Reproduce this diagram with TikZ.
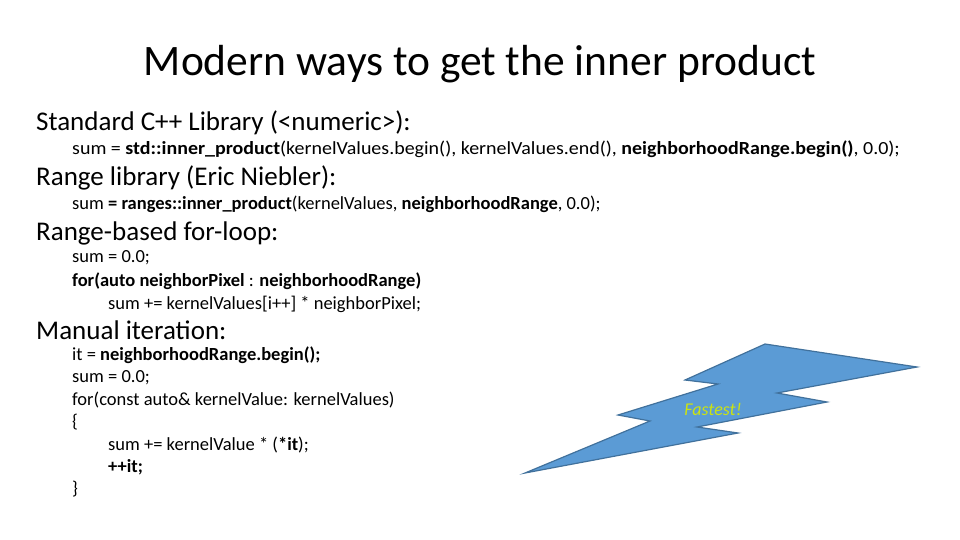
\documentclass[tikz,border=0pt]{standalone}
\usepackage{fontspec}
\setmainfont{Carlito}
\definecolor{boltfill}{RGB}{91,155,213}
\definecolor{boltline}{RGB}{65,113,156}

\tikzset{
  head/.style={anchor=west, inner sep=0pt, font=\fontsize{27}{31}\selectfont},
  code/.style={anchor=west, inner sep=0pt, font=\fontsize{18.5}{22}\selectfont},
  bolt/.style={fill=boltfill, draw=boltline, line width=1.2pt}
}

\begin{document}
\begin{tikzpicture}[x=1pt, y=-1pt]
  \useasboundingbox (0, 0) rectangle (960, 540);
  \node[inner sep=0pt, font=\fontsize{43.5}{50}\selectfont] (title) at (480, 64) {Modern ways to get the inner product};

  \node[head] (std) at (36, 123) {Standard C++ Library (<numeric>):};
  \node[code, xscale=1.08] (stdcode) at (72, 149) {sum = \textbf{std::inner\_product}(kernelValues.begin(), kernelValues.end(), \textbf{neighborhoodRange.begin()}, 0.0);};

  \node[head] (rng) at (36, 178) {Range library (Eric Niebler):};
  \node[code] (rngcode) at (72, 204) {sum \textbf{= ranges::inner\_product}(kernelValues, \textbf{neighborhoodRange}, 0.0);};

  \node[head] (rfor) at (36, 233) {Range-based for-loop:};
  \node[code] (rfora) at (72, 258) {sum = 0.0;};
  \node[code] (rforb) at (72, 281) {\textbf{for(auto neighborPixel} : \textbf{neighborhoodRange)}};
  \node[code] (rforc) at (108, 304) {sum += kernelValues[i++] * neighborPixel;};

  \node[head] (man) at (36, 330) {Manual iteration:};
  \node[code] (mana) at (72, 355) {it = \textbf{neighborhoodRange.begin();}};
  \node[code] (manb) at (72, 378) {sum = 0.0;};
  \node[code] (manc) at (72, 400) {for(const auto\& kernelValue: kernelValues)};
  \node[code] (mand) at (72, 422) {\{};
  \node[code] (mane) at (108, 445) {sum += kernelValue * (\textbf{*it});};
  \node[code] (manf) at (108, 467) {\textbf{++it;}};
  \node[code] (mang) at (72, 489) {\}};

  % lightning shape
  \draw[bolt] (765, 344) -- (917, 367) -- (777, 393) -- (827, 402) -- (697, 427)
    -- (738, 433) -- (525, 473) -- (650, 421) -- (618, 415) -- (718, 384)
    -- (685, 380) -- cycle;
  \node[inner sep=0pt, text=yellow!80!green, font=\fontsize{18}{21}\selectfont\itshape] (fast) at (713, 409) {Fastest!};
\end{tikzpicture}
\end{document}
